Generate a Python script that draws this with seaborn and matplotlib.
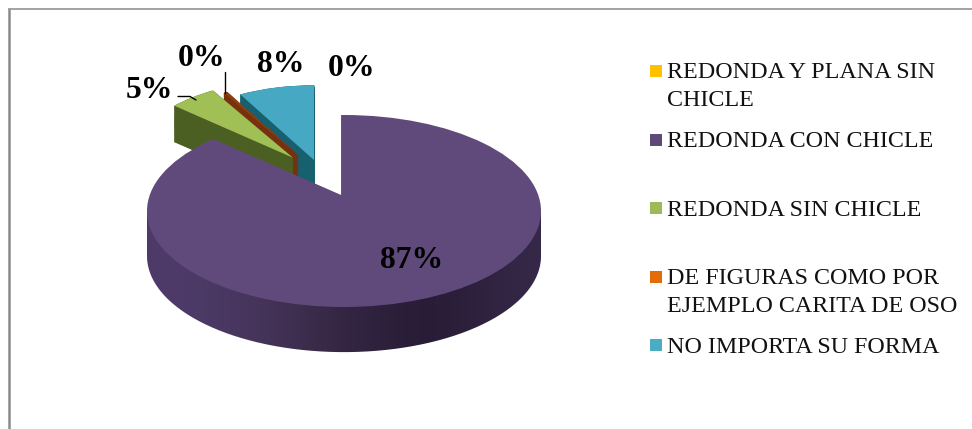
import numpy as np
import matplotlib
matplotlib.use("Agg")
import matplotlib.pyplot as plt
from matplotlib.patches import Circle, Rectangle
from matplotlib.path import Path
import seaborn as sns

categories = ["REDONDA Y PLANA SIN\nCHICLE", "REDONDA CON CHICLE", "REDONDA SIN CHICLE",
              "DE FIGURAS COMO POR\nEJEMPLO CARITA DE OSO", "NO IMPORTA SU FORMA"]
values = [0, 87, 5, 0.4, 8]
value_labels = ["0%", "87%", "5%", "0%", "8%"]

legend_colors = sns.color_palette(["#FFC000", "#5F497A", "#9BBB59", "#E36C09", "#4BACC6"])
top_colors = ["#FFC000", "#604A7B", "#A0BF55", "#8A4212", "#47A8C4"]
side_colors = ["#7F6000", "#3F2F55", "#4C5F22", "#7A300C", "#17606F"]
side_gradient = ["#4E3B6A", "#4A3864", "#453358", "#392A48", "#30233F", "#271B35", "#2B1F3A", "#352848"]

sns.set_theme(style="white")
plt.rcParams["font.family"] = ["Liberation Serif", "DejaVu Serif"]

W, H = 972, 429
fig = plt.figure(figsize=(W / 100, H / 100), dpi=100, facecolor="white")
ax = fig.add_axes([0, 0, 1, 1])
px = fig.add_axes([0, 0, 1, 1], zorder=5)
px.patch.set_alpha(0)

# layout of the pseudo-3D pie (pie units); drawn back to front
cx, cy, rx, ry = 344, 211, 197, 96
rear = {4: (-0.152, 0.53, 0.78), 3: (-0.233, 0.583, 0.75), 2: (-0.259, 0.555, 0.81)}
rear_depth = 0.375
main_depth = 0.47
apex = (-0.015, 0.167)


def one_wedge(i, center, radius):
    wedges, _ = ax.pie(values, startangle=90, counterclock=False, center=center, radius=radius)
    for j, w in enumerate(wedges):
        if j != i:
            w.remove()
    return wedges[i]


# exploded rear slices: extruded sides first, then tops
for i, (ox, oy, r) in rear.items():
    for d in np.arange(rear_depth, 0, -0.01):
        w = one_wedge(i, (ox, oy - d), r)
        w.set(facecolor=side_colors[i], edgecolor=side_colors[i], linewidth=0.6, zorder=2)
    w = one_wedge(i, (ox, oy), r)
    w.set(facecolor=top_colors[i], edgecolor="none", zorder=3 + (0.1 if i == 3 else 0))

# main slice: side wall with gradient, then its top
t = np.linspace(np.pi, 2 * np.pi, 200)
wall = np.column_stack([np.cos(t), np.sin(t) - main_depth])
wall = np.vstack([wall, [1, 0], [-1, 0], wall[0]])
grad = np.array([matplotlib.colors.to_rgb(c) for c in side_gradient])[None, :, :]
im = ax.imshow(grad, extent=(-1, 1, -1.6, 0), aspect="auto", interpolation="bicubic", zorder=4)
im.set_clip_path(Path(wall), ax.transData)

w = one_wedge(1, apex, 1.25)
w.set(facecolor=top_colors[1], edgecolor="none", zorder=5)
w.set_clip_on(True)
w.set_clip_path(Circle((0, 0), 1, transform=ax.transData))

ax.set_aspect("auto")
ax.set_xlim(-cx / rx, (W - cx) / rx)
ax.set_ylim((cy - H) / ry, cy / ry)
ax.axis("off")

# pixel overlay: frame, value labels, leaders, legend
px.set_xlim(0, W)
px.set_ylim(H, 0)
px.axis("off")
px.plot([9, 9], [H, 8.5], color="#8A8A8A", lw=1.8, solid_capstyle="butt")
px.plot([8, W], [8.5, 8.5], color="#8A8A8A", lw=1.1, solid_capstyle="butt")

label_pos = [(352, 68), (412, 260), (149, 90), (202, 59), (281, 64)]
for txt, (x, y) in zip(value_labels, label_pos):
    px.text(x, y, txt, fontsize=22.8, fontweight="bold", color="black", ha="center", va="center")
px.plot([178, 190, 196], [96.5, 96.5, 100], color="black", lw=1)
px.plot([224.5, 224.5], [72, 93], color="black", lw=1)

square_tops = [65, 134, 202, 271, 339]
baselines = [78, 147, 216, 284, 353]
for name, c, top, base in zip(categories, legend_colors, square_tops, baselines):
    px.add_patch(Rectangle((650, top), 12, 12, facecolor=c, edgecolor="none"))
    for k, line in enumerate(name.split("\n")):
        px.text(667, base + 28 * k, line, fontsize=17.3, color="#111111", ha="left", va="baseline")

fig.savefig("out.png", dpi=100)
